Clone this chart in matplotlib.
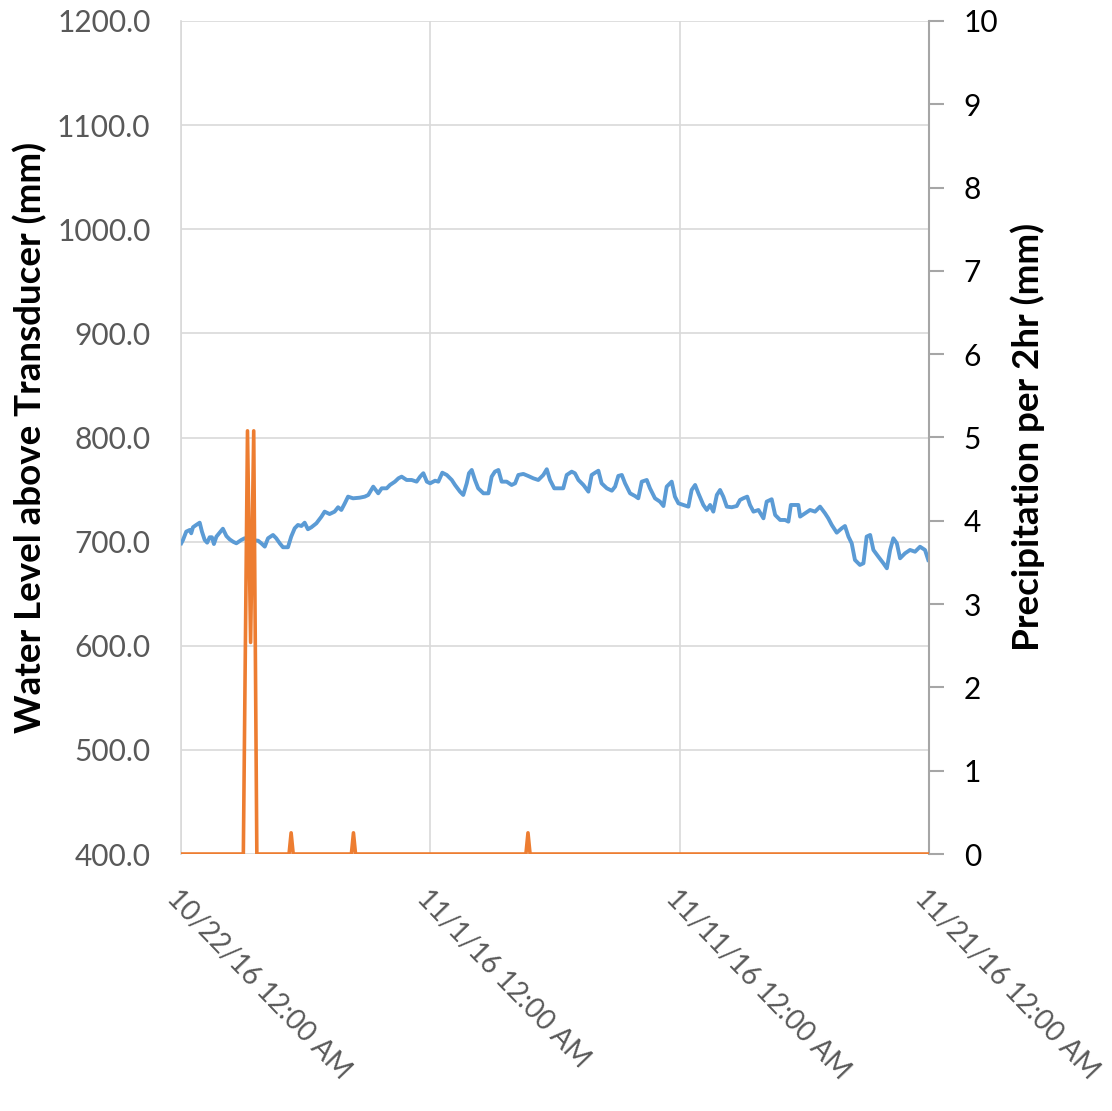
import matplotlib
matplotlib.use("Agg")
import matplotlib.pyplot as plt
import matplotlib.transforms as mtransforms
import numpy as np

# ---------------- data ----------------
# days since 10/22/16 12:00 AM
level_days = [0.01, 0.08, 0.21, 0.35, 0.41, 0.48, 0.61, 0.75, 0.84, 0.95, 1.05, 1.15, 1.24, 1.32, 1.42,
              1.55, 1.68, 1.82, 1.95, 2.09, 2.22, 2.42, 2.55, 2.73, 3.09, 3.22, 3.36, 3.49, 3.69, 3.82,
              3.96, 4.09, 4.29, 4.42, 4.56, 4.69, 4.83, 4.96, 5.09, 5.23, 5.43, 5.63, 5.76, 5.96, 6.16,
              6.30, 6.43, 6.57, 6.70, 6.90, 7.17, 7.37, 7.51, 7.71, 7.91, 8.05, 8.25, 8.38, 8.58, 8.72,
              8.85, 9.05, 9.25, 9.45, 9.59, 9.72, 9.86, 9.99, 10.19, 10.32, 10.48, 10.66, 10.86, 10.99,
              11.19, 11.32, 11.46, 11.55, 11.66, 11.79, 11.92, 12.13, 12.33, 12.46, 12.59, 12.73, 12.86,
              13.06, 13.26, 13.40, 13.53, 13.73, 13.93, 14.13, 14.33, 14.53, 14.67, 14.80, 14.97, 15.13,
              15.33, 15.47, 15.67, 15.80, 15.94, 16.14, 16.34, 16.47, 16.61, 16.74, 16.87, 17.08, 17.28,
              17.41, 17.54, 17.68, 17.81, 18.01, 18.21, 18.34, 18.48, 18.68, 18.81, 19.01, 19.21, 19.35,
              19.48, 19.68, 19.81, 19.95, 20.15, 20.35, 20.48, 20.62, 20.75, 20.95, 21.09, 21.22, 21.35,
              21.49, 21.62, 21.75, 21.89, 22.09, 22.29, 22.42, 22.55, 22.71, 22.82, 22.96, 23.16, 23.36,
              23.49, 23.69, 23.83, 24.03, 24.23, 24.36, 24.46, 24.63, 24.76, 24.83, 25.03, 25.23, 25.43,
              25.63, 25.83, 25.96, 26.10, 26.30, 26.50, 26.63, 26.77, 26.90, 27.03, 27.23, 27.37, 27.50,
              27.64, 27.77, 27.97, 28.17, 28.31, 28.44, 28.57, 28.71, 28.84, 29.04, 29.24, 29.44, 29.64,
              29.84, 29.97]
level_mm = [698.4, 701.6, 709.6, 711.2, 708.0, 713.8, 716.0, 718.2, 709.6, 701.6, 699.0, 704.2, 704.2, 697.7, 704.8,
            708.6, 712.4, 705.4, 702.2, 699.9, 698.4, 701.6, 703.2, 701.6, 700.9, 698.4, 695.2, 703.2, 706.4, 703.2,
            698.4, 694.6, 694.6, 704.8, 712.8, 716.0, 715.0, 718.2, 711.9, 713.8, 717.6, 723.9, 728.8, 726.5, 728.8,
            733.0, 730.4, 736.8, 743.2, 741.6, 742.2, 743.2, 744.8, 752.8, 746.4, 751.2, 751.2, 754.4, 757.6, 760.8,
            762.4, 759.2, 759.2, 757.6, 762.4, 765.7, 757.6, 756.0, 758.5, 757.6, 766.2, 764.0, 759.2, 754.4,
            748.0, 744.8, 756.0, 765.7, 768.8, 759.2, 751.2, 746.4, 746.4, 762.4, 767.2, 768.8, 757.6,
            757.6, 754.4, 756.0, 764.0, 765.0, 763.0, 760.8, 759.2, 764.0, 769.5, 759.2, 751.2, 751.2,
            751.2, 764.0, 767.2, 765.6, 759.2, 754.4, 748.0, 764.0, 766.2, 768.1, 756.0, 751.2, 748.9,
            752.8, 763.1, 764.0, 756.0, 746.4, 743.8, 741.6, 757.6, 759.2, 751.2, 741.6, 738.4, 734.2,
            752.8, 757.6, 743.2, 736.8, 735.2, 733.6, 749.6, 754.4, 746.4, 735.2, 730.4, 735.2, 728.8,
            744.8, 749.6, 743.2, 733.6, 733.0, 734.2, 740.0, 741.6, 743.2, 735.2, 728.8, 730.4, 722.4,
            738.4, 740.7, 725.6, 720.8, 720.8, 719.2, 735.2, 735.2, 735.2, 724.0, 727.2, 730.4, 728.8,
            733.6, 727.2, 722.4, 716.0, 708.6, 712.8, 715.0, 704.8, 698.4, 682.4, 677.6, 679.2, 704.8,
            706.4, 692.0, 685.5, 679.2, 674.4, 692.0, 703.2, 698.4, 684.0, 688.8, 692.0, 690.3, 695.1,
            692.0, 682.4]

# precipitation per 2 hr, hours since start
precip_hours = [0, 60, 64, 67, 70, 73, 104, 106, 108, 164, 166, 168, 332, 334, 336, 720]
precip_mm = [0, 0, 5.08, 2.54, 5.08, 0, 0, 0.254, 0, 0, 0.254, 0, 0, 0.254, 0, 0]

x_ticks = [0, 10, 20, 30]
x_labels = ["10/22/16 12:00 AM", "11/1/16 12:00 AM", "11/11/16 12:00 AM", "11/21/16 12:00 AM"]
left_ticks = [400, 500, 600, 700, 800, 900, 1000, 1100, 1200]
right_ticks = [0, 1, 2, 3, 4, 5, 6, 7, 8, 9, 10]

# ---------------- style ----------------
plt.rcParams['font.family'] = ['Lato', 'DejaVu Sans']
BLUE = "#5B9BD5"
ORANGE = "#ED7D31"
GRID = "#D9D9D9"
LGRAY = "#595959"

fig = plt.figure(figsize=(11.12, 11.11), dpi=100)
ax = fig.add_axes([181/1112, 1 - 854/1111, 748/1112, 833/1111])
ax2 = ax.twinx()

ax.plot(level_days, level_mm, color=BLUE, lw=2.8, solid_joinstyle='round', zorder=3)
ax2.plot(np.array(precip_hours) / 24.0, precip_mm, color=ORANGE, lw=2.6, solid_joinstyle='round', zorder=3)

ax.set_xlim(0, 30)
ax.set_ylim(400, 1200)
ax2.set_ylim(0, 10)

ax.set_yticks(left_ticks)
ax.set_yticklabels([f"{v:.1f}" for v in left_ticks])
ax.set_xticks(x_ticks)
ax.set_xticklabels(x_labels, rotation=-46, ha='left', va='top', rotation_mode='anchor')
shift = mtransforms.ScaledTranslation(6/100, 0, fig.dpi_scale_trans)
for lbl in ax.get_xticklabels():
    lbl.set_transform(lbl.get_transform() + shift)
ax2.set_yticks(right_ticks)
ax2.set_yticklabels([str(v) for v in right_ticks])

ax.grid(True, color=GRID, lw=1.2)
ax.set_axisbelow(True)

for s in ['top', 'right', 'bottom']:
    ax.spines[s].set_visible(False)
ax.spines['left'].set_color(GRID)
ax.spines['left'].set_linewidth(1.2)
for s in ['top', 'left', 'bottom']:
    ax2.spines[s].set_visible(False)
ax2.spines['right'].set_color("#A6A6A6")
ax2.spines['right'].set_linewidth(1.5)

ax.tick_params(axis='y', length=0, pad=22, labelsize=21.5, labelcolor=LGRAY)
ax.tick_params(axis='x', length=0, pad=22, labelsize=20, labelcolor=LGRAY)
ax2.tick_params(axis='y', length=11, width=1.5, color="#A6A6A6", pad=14, labelsize=21.5, labelcolor='black')

fig.text(30/1112, 1 - 437/1111, "Water Level above Transducer (mm)", rotation=90,
         ha='center', va='center', fontsize=26.5, fontweight='bold')
fig.text(1028/1112, 1 - 437/1111, "Precipitation per 2hr (mm)", rotation=90,
         ha='center', va='center', fontsize=26.5, fontweight='bold')

fig.savefig("out.png", dpi=100)
